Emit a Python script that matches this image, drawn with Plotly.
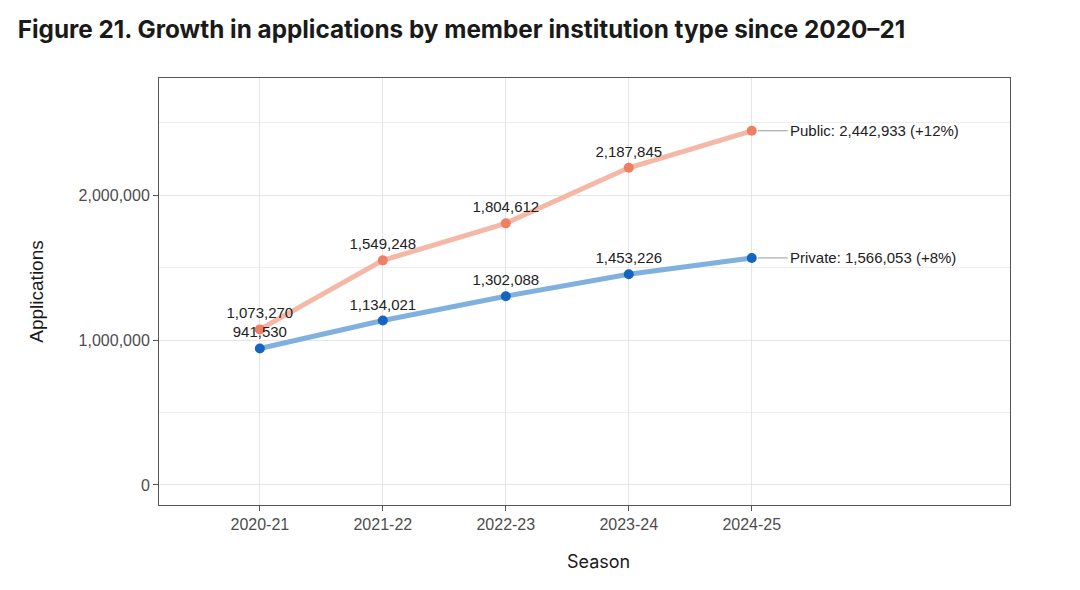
import plotly.graph_objects as go

seasons = ["2020-21", "2021-22", "2022-23", "2023-24", "2024-25"]
public = [1073270, 1549248, 1804612, 2187845, 2442933]
private = [941530, 1134021, 1302088, 1453226, 1566053]
public_growth = "+12%"
private_growth = "+8%"
y_ticks = [0, 1000000, 2000000]
y_minor = [500000, 1500000, 2500000]

xi = list(range(len(seasons)))
lab_font = dict(family="Liberation Sans, Arial, sans-serif", size=15, color="#222222")

def fmt(v):
    return f"{v:,}"

fig = go.Figure()

series = [
    ("Public", public, "#F5B8A6", "#EF7F62", public_growth),
    ("Private", private, "#80B1DE", "#1565C0", private_growth),
]

for name, vals, lc, mc, gr in series:
    fig.add_trace(go.Scatter(
        x=xi, y=vals, mode="lines", line=dict(color=lc, width=5),
        showlegend=False, hoverinfo="skip"))
    fig.add_trace(go.Scatter(
        x=xi, y=vals, mode="markers+text",
        marker=dict(color=mc, size=10),
        text=[fmt(v) for v in vals[:-1]] + [""],
        textposition="top center", textfont=lab_font,
        showlegend=False, name=name))
    fig.add_annotation(
        x=xi[-1], y=vals[-1], xref="x", yref="y",
        text=f"{name}: {fmt(vals[-1])} ({gr})",
        showarrow=True, arrowhead=0, arrowwidth=1, arrowcolor="#999999",
        ax=36, ay=0, xanchor="left", standoff=6,
        font=lab_font)

for ym in y_minor:
    fig.add_hline(y=ym, line=dict(color="#EEEEEE", width=1), layer="below")

fig.add_annotation(
    text="Season", xref="paper", yref="paper", x=0.517, y=0,
    xanchor="center", yanchor="middle", yshift=-56, showarrow=False,
    font=dict(family="Inter, Open Sans, sans-serif", size=18, color="#1a1a1a"))

fig.update_layout(
    width=1080, height=590,
    margin=dict(l=151, r=78, t=70, b=93),
    paper_bgcolor="white", plot_bgcolor="white",
    title=dict(text="<b>Figure 21. Growth in applications by member institution type since 2020–21</b>",
               x=0.009, xanchor="left", y=0.963, yanchor="middle",
               font=dict(family="Inter, Open Sans, sans-serif", size=24.3, color="#1a1a1a")),
    xaxis=dict(
        range=[-0.82, 6.1], tickmode="array", tickvals=xi, ticktext=seasons,
        showgrid=True, gridcolor="#E6E6E6", gridwidth=1, zeroline=False,
        showline=True, linecolor="#555555", linewidth=1, mirror=True,
        ticks="outside", ticklen=5, tickcolor="#555555",
        tickfont=dict(family="Liberation Sans, Arial, sans-serif", size=16, color="#4D4D4D")),
    yaxis=dict(
        range=[-138000, 2807000], tickmode="array", tickvals=y_ticks,
        ticktext=[fmt(v) for v in y_ticks],
        showgrid=True, gridcolor="#E6E6E6", gridwidth=1, zeroline=False,
        showline=True, linecolor="#555555", linewidth=1, mirror=True,
        ticks="outside", ticklen=5, tickcolor="#555555",
        tickfont=dict(family="Liberation Sans, Arial, sans-serif", size=16, color="#4D4D4D"),
        title=dict(text="Applications", standoff=29,
                   font=dict(family="Liberation Sans, Arial, sans-serif", size=19, color="#1a1a1a"))),
)

fig.write_html("out.html")
